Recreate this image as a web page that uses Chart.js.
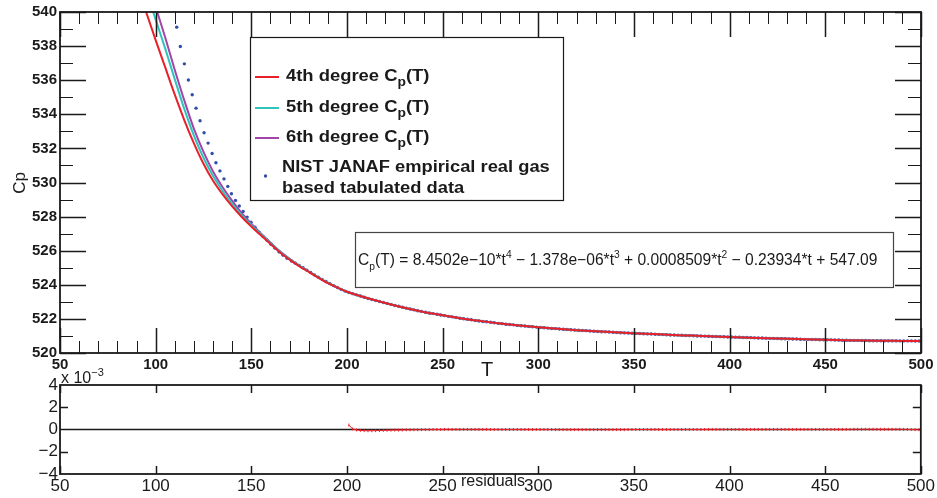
<!DOCTYPE html>
<html>
<head>
<meta charset="utf-8">
<script src="https://cdn.jsdelivr.net/npm/chart.js@4.4.1/dist/chart.umd.min.js"></script>
<style>
  html, body { margin: 0; padding: 0; background: #fff; }
  #wrap { position: relative; width: 937px; height: 498px; overflow: hidden; }
  #top { position: absolute; left: 0; top: 0; }
  #bot { position: absolute; left: 0; top: 360px; }
</style>
</head>
<body>
<div id="wrap">
  <canvas id="top" width="937" height="380"></canvas>
  <canvas id="bot" width="937" height="138"></canvas>
</div>
<script>
const fitT = [90, 95, 100, 105, 110, 115, 120, 125, 130, 135, 140, 145, 150, 155, 160, 165, 170, 175, 180, 185, 190, 195, 200,
  210, 220, 230, 240, 250, 260, 270, 280, 290, 300, 310, 320, 330, 340, 350, 360, 370, 380, 390, 400, 410, 420, 430, 440, 450, 460, 470, 480, 490, 500];
const fit4 = [541.7, 540.0, 538.35, 536.75, 535.15, 533.65, 532.3, 531.1, 530.1, 529.3, 528.6, 527.98, 527.42, 526.9, 526.4, 525.9, 525.48, 525.1, 524.76, 524.42, 524.1, 523.83, 523.59,
  523.24, 522.93, 522.65, 522.41, 522.21, 522.02, 521.87, 521.73, 521.61, 521.51, 521.42, 521.34, 521.27, 521.21, 521.16, 521.11, 521.06, 521.02, 520.98, 520.94, 520.90, 520.87, 520.83, 520.80, 520.78, 520.75, 520.73, 520.72, 520.71, 520.70];
const fit5 = [543.1, 541.3, 539.55, 537.85, 536.05, 534.3, 532.75, 531.45, 530.38, 529.5, 528.75, 528.08, 527.5, 526.96, 526.45, 525.94, 525.51, 525.12, 524.78, 524.43, 524.11, 523.84, 523.59,
  523.24, 522.93, 522.65, 522.41, 522.21, 522.02, 521.87, 521.73, 521.61, 521.51, 521.42, 521.34, 521.27, 521.21, 521.16, 521.11, 521.06, 521.02, 520.98, 520.94, 520.90, 520.87, 520.83, 520.80, 520.78, 520.75, 520.73, 520.72, 520.71, 520.70];
const fit6 = [543.8, 542.0, 540.3, 538.5, 536.6, 534.8, 533.15, 531.8, 530.65, 529.72, 528.92, 528.2, 527.58, 527.01, 526.48, 525.96, 525.52, 525.13, 524.78, 524.44, 524.12, 523.84, 523.59,
  523.24, 522.93, 522.65, 522.41, 522.21, 522.02, 521.87, 521.73, 521.61, 521.51, 521.42, 521.34, 521.27, 521.21, 521.16, 521.11, 521.06, 521.02, 520.98, 520.94, 520.90, 520.87, 520.83, 520.80, 520.78, 520.75, 520.73, 520.72, 520.71, 520.70];

// NIST JANAF tabulated points
const dataT = [111.0, 112.9, 115.0, 117.1, 119.1, 121.1, 123.2, 125.3, 127.4, 129.5, 131.5, 133.6, 135.7, 137.7, 139.6, 141.7, 143.7, 145.7, 147.8, 149.8,
  151.9, 154.0, 156.1, 158.2, 160.3, 162.4, 164.5, 166.6, 168.7,
  171, 173, 175, 177, 179, 181, 183, 185, 187, 189, 191, 193, 195, 197, 199,
  201, 203, 205, 207, 209, 211, 213, 215, 217, 219,
  221, 223, 225, 227, 229, 231, 233, 235, 237, 239,
  241, 243, 245, 247, 249, 251, 253, 255, 257, 259,
  261, 263, 265, 267, 269, 271, 273, 275, 277, 279,
  281, 283, 285, 287, 289, 291, 293, 295, 297, 299,
  301, 303, 305, 307, 309, 311, 313, 315, 317, 319,
  321, 323, 325, 327, 329, 331, 333, 335, 337, 339,
  341, 343, 345, 347, 349, 351, 353, 355, 357, 359,
  361, 363, 365, 367, 369, 371, 373, 375, 377, 379,
  381, 383, 385, 387, 389, 391, 393, 395, 397, 399,
  401, 403, 405, 407, 409, 411, 413, 415, 417, 419,
  421, 423, 425, 427, 429, 431, 433, 435, 437, 439,
  441, 443, 445, 447, 449, 451, 453, 455, 457, 459,
  461, 463, 465, 467, 469, 471, 473, 475, 477, 479,
  481, 483, 485, 487, 489, 491, 493, 495, 497, 499];
const dataCp = [539.11, 537.98, 536.96, 536.01, 535.15, 534.36, 533.62, 532.92, 532.31, 531.70, 531.16, 530.68, 530.21, 529.77, 529.34, 528.95, 528.62, 528.30, 527.97, 527.67,
  527.38, 527.09, 526.84, 526.61, 526.38, 526.15, 525.93, 525.74, 525.56,
  525.40, 525.27, 525.14, 525.00, 524.86, 524.72, 524.58, 524.45, 524.32, 524.19, 524.07, 523.95, 523.84, 523.73, 523.63,
  523.55, 523.48, 523.41, 523.34, 523.27, 523.20, 523.14, 523.08, 523.02, 522.96,
  522.90, 522.85, 522.79, 522.74, 522.68, 522.63, 522.58, 522.53, 522.48, 522.44,
  522.39, 522.35, 522.31, 522.27, 522.23, 522.19, 522.15, 522.12, 522.08, 522.04,
  522.01, 521.98, 521.95, 521.91, 521.88, 521.85, 521.83, 521.80, 521.77, 521.74,
  521.72, 521.69, 521.67, 521.65, 521.62, 521.60, 521.58, 521.56, 521.54, 521.52,
  521.50, 521.48, 521.46, 521.44, 521.43, 521.41, 521.39, 521.38, 521.36, 521.35,
  521.33, 521.32, 521.31, 521.29, 521.28, 521.26, 521.25, 521.24, 521.23, 521.22,
  521.20, 521.19, 521.18, 521.17, 521.16, 521.15, 521.14, 521.13, 521.12, 521.11,
  521.10, 521.09, 521.08, 521.07, 521.06, 521.06, 521.05, 521.04, 521.03, 521.02,
  521.01, 521.00, 521.00, 520.99, 520.98, 520.97, 520.97, 520.96, 520.95, 520.94,
  520.94, 520.93, 520.92, 520.91, 520.91, 520.90, 520.89, 520.88, 520.88, 520.87,
  520.86, 520.86, 520.85, 520.84, 520.84, 520.83, 520.82, 520.82, 520.81, 520.80,
  520.80, 520.79, 520.79, 520.78, 520.78, 520.77, 520.77, 520.76, 520.76, 520.75,
  520.75, 520.74, 520.74, 520.74, 520.73, 520.73, 520.72, 520.72, 520.72, 520.72,
  520.71, 520.71, 520.71, 520.71, 520.71, 520.71, 520.71, 520.71, 520.70, 520.70];

// residuals (x 10^-3) of the fit, at the tabulated points from 200 K on
const resV = [0.40, 0.05, -0.04, -0.08, -0.10, -0.11, -0.11, -0.10, -0.09, -0.08,
  -0.07, -0.06, -0.05, -0.05, -0.04, -0.03, -0.03, -0.02, -0.02, -0.01,
  -0.01, -0.01, 0, 0, 0, 0.01, 0.01, 0.01, 0.01, 0.01,
  0.01, 0.01, 0.01, 0.01, 0.01, 0.01, 0.01, 0, 0, 0,
  0, 0, 0, 0, 0, 0, 0, 0, 0, 0,
  0, 0, 0, 0, -0.01, -0.01, -0.01, -0.01, -0.01, -0.01,
  -0.01, -0.01, -0.01, -0.01, -0.01, -0.01, -0.01, -0.01, -0.01, -0.01,
  -0.01, -0.01, -0.01, 0, 0, 0, 0, 0, 0, 0,
  0, 0, 0, 0, 0, 0, 0, 0, 0, 0,
  0, 0, 0, 0, 0.01, 0.01, 0.01, 0.01, 0.01, 0.01,
  0.01, 0.01, 0.01, 0.01, 0.01, 0.01, 0.01, 0.01, 0.01, 0.01,
  0.01, 0.01, 0.01, 0.01, 0.01, 0.01, 0.01, 0.01, 0.01, 0.01,
  0.01, 0.01, 0.01, 0.01, 0.01, 0.01, 0.01, 0.01, 0.01, 0.01,
  0.01, 0.01, 0.02, 0.02, 0.02, 0.02, 0.02, 0.02, 0.02, 0.02,
  0.02, 0.02, 0.02, 0.02, 0.02, 0.01, 0.01, 0, -0.01, -0.02];
const zeroT = [50, 500];
const zeroV = [0, 0];

// axis ticks
const tTicks = [50, 100, 150, 200, 250, 300, 350, 400, 450, 500];
const cpTicks = [520, 522, 524, 526, 528, 530, 532, 534, 536, 538, 540];
const resTicks = [-4, -2, 0, 2, 4];

const FONT = "'Liberation Sans', Arial, sans-serif";
const INK = '#1a1a1a';
Chart.defaults.font.family = FONT;

const pts = (xs, ys) => xs.map((x, i) => ({ x: x, y: ys[i] }));
const resT = dataT.filter(t => t >= 200);

// draw text pieces one after another (for sub/superscripts), sx = horizontal stretch
function richText(ctx, x, y, parts, sx) {
    sx = sx || 1;
    ctx.save();
    ctx.translate(x, y);
    ctx.scale(sx, 1);
    let cx = 0;
    parts.forEach(p => {
        ctx.font = p.font;
        ctx.fillText(p.text, cx, p.dy || 0);
        cx += ctx.measureText(p.text).width;
    });
    ctx.restore();
}

// ROOT-like frame with ticks pointing inwards on all four sides
function drawFrame(chart, o) {
    const { ctx, chartArea: a, scales: { x, y } } = chart;
    ctx.save();
    ctx.strokeStyle = INK;
    const tick = (vals, len, width, horiz) => {
        ctx.lineWidth = width;
        ctx.beginPath();
        vals.forEach(v => {
            if (horiz) {
                const px = Math.round(x.getPixelForValue(v)) + 0.5;
                ctx.moveTo(px, a.bottom); ctx.lineTo(px, a.bottom - len);
                ctx.moveTo(px, a.top); ctx.lineTo(px, a.top + len);
            } else {
                const py = Math.round(y.getPixelForValue(v)) + 0.5;
                ctx.moveTo(a.left, py); ctx.lineTo(a.left + len, py);
                ctx.moveTo(a.right, py); ctx.lineTo(a.right - len, py);
            }
        });
        ctx.stroke();
    };
    if (o.xMinor) tick(o.xMinor, o.xMinorLen, 1, true);
    tick(o.xMajor, o.xMajorLen, 1.5, true);
    if (o.yMinor) tick(o.yMinor, o.yMinorLen, 1, false);
    tick(o.yMajor, o.yMajorLen, 1.5, false);
    ctx.lineWidth = 1.8;
    ctx.strokeRect(a.left, a.top, a.right - a.left, a.bottom - a.top);
    ctx.restore();
}

const xMinor = [];
for (let v = 60; v < 500; v += 10) if (v % 50 !== 0) xMinor.push(v);
const yMinor = [];
for (let v = 521; v < 540; v += 2) yMinor.push(v);

const mainDecor = {
    id: 'mainDecor',
    afterDraw(chart) {
        const ctx = chart.ctx;
        ctx.save();
        ctx.textBaseline = 'alphabetic';

        // legend box
        ctx.fillStyle = '#fff';
        ctx.fillRect(250, 37, 313, 163);
        ctx.strokeStyle = INK;
        ctx.lineWidth = 1.2;
        ctx.strokeRect(250.5, 37.5, 313, 163);
        const rows = [['#e8202a', '4th', 77], ['#2ec4bc', '5th', 108], ['#a145a8', '6th', 138]];
        rows.forEach(r => {
            ctx.strokeStyle = r[0];
            ctx.lineWidth = 2;
            ctx.beginPath(); ctx.moveTo(255, r[2]); ctx.lineTo(279, r[2]); ctx.stroke();
            ctx.fillStyle = INK;
            richText(ctx, 286, r[2] + 4, [
                { text: r[1] + ' degree C', font: 'bold 16px ' + FONT },
                { text: 'p', font: 'bold 12px ' + FONT, dy: 5 },
                { text: '(T)', font: 'bold 16px ' + FONT }
            ], 1.15);
        });
        ctx.fillStyle = '#3050a8';
        ctx.beginPath(); ctx.arc(265.5, 176, 1.7, 0, Math.PI * 2); ctx.fill();
        ctx.fillStyle = INK;
        richText(ctx, 282, 172, [{ text: 'NIST JANAF empirical real gas', font: 'bold 16px ' + FONT }], 1.145);
        richText(ctx, 282, 193, [{ text: 'based tabulated data', font: 'bold 16px ' + FONT }], 1.145);

        // fit formula box
        ctx.fillStyle = '#fff';
        ctx.fillRect(355, 232, 538, 55);
        ctx.strokeStyle = '#444';
        ctx.lineWidth = 1.2;
        ctx.strokeRect(355.5, 232.5, 538, 55);
        ctx.fillStyle = INK;
        const reg = '16px ' + FONT, sm = '10.5px ' + FONT;
        richText(ctx, 358, 265, [
            { text: 'C', font: reg }, { text: 'p', font: sm, dy: 5 },
            { text: '(T) = 8.4502e\u221210*t', font: reg }, { text: '4', font: sm, dy: -7 },
            { text: ' \u2212 1.378e\u221206*t', font: reg }, { text: '3', font: sm, dy: -7 },
            { text: ' + 0.0008509*t', font: reg }, { text: '2', font: sm, dy: -7 },
            { text: ' \u2212 0.23934*t + 547.09', font: reg }
        ], 0.975);

        // axis titles
        ctx.fillStyle = INK;
        ctx.font = '20px ' + FONT;
        ctx.textAlign = 'center';
        ctx.fillText('T', 487, 376);
        ctx.translate(25, 183);
        ctx.rotate(-Math.PI / 2);
        ctx.font = '17px ' + FONT;
        ctx.fillText('Cp', 0, 0);
        ctx.restore();

        drawFrame(chart, {
            xMinor: xMinor, xMinorLen: 12, xMajor: tTicks, xMajorLen: 25,
            yMinor: yMinor, yMinorLen: 13, yMajor: cpTicks, yMajorLen: 26
        });
    }
};

const resDecor = {
    id: 'resDecor',
    afterDraw(chart) {
        const ctx = chart.ctx;
        ctx.save();
        ctx.fillStyle = INK;
        richText(ctx, 61, 23, [
            { text: 'x 10', font: '16px ' + FONT },
            { text: '\u22123', font: '11px ' + FONT, dy: -7 }
        ]);
        ctx.font = '16px ' + FONT;
        ctx.textAlign = 'center';
        ctx.fillText('residuals', 493, 126);
        ctx.restore();
        drawFrame(chart, { xMajor: tTicks, xMajorLen: 8, yMajor: [-2, 2], yMajorLen: 8 });
    }
};

const setTicks = vals => scale => { scale.ticks = vals.map(v => ({ value: v })); };
const noGrid = { display: false, drawTicks: false };

const mainChart = new Chart(document.getElementById('top'), {
    type: 'scatter',
    data: {
        datasets: [
            { label: '4th degree', data: pts(fitT, fit4), showLine: true, borderColor: '#e8202a', borderWidth: 2,
              pointRadius: 0, cubicInterpolationMode: 'monotone', clip: 0 },
            { label: '5th degree', data: pts(fitT, fit5), showLine: true, borderColor: '#2ec4bc', borderWidth: 2,
              pointRadius: 0, cubicInterpolationMode: 'monotone', clip: 0 },
            { label: '6th degree', data: pts(fitT, fit6), showLine: true, borderColor: '#a145a8', borderWidth: 2,
              pointRadius: 0, cubicInterpolationMode: 'monotone', clip: 0 },
            { label: 'NIST JANAF', data: pts(dataT, dataCp), showLine: false, pointRadius: 1.7,
              pointBackgroundColor: '#3050a8', pointBorderWidth: 0, clip: 0 }
        ]
    },
    options: {
        responsive: false,
        animation: false,
        devicePixelRatio: 1,
        layout: { padding: { top: 9, right: 16, left: 0, bottom: 0 } },
        plugins: { legend: { display: false }, tooltip: { enabled: false } },
        scales: {
            x: {
                type: 'linear', min: 50, max: 500,
                afterBuildTicks: setTicks(tTicks),
                afterFit: s => { s.height = 27; },
                grid: noGrid, border: { display: false },
                ticks: { autoSkip: false, maxRotation: 0, padding: 3, color: INK,
                         font: { size: 15, weight: 'bold' } }
            },
            y: {
                type: 'linear', min: 520, max: 540,
                afterBuildTicks: setTicks(cpTicks),
                afterFit: s => { s.width = 60; },
                grid: noGrid, border: { display: false },
                ticks: { autoSkip: false, padding: 3, color: INK, font: { size: 15, weight: 'bold' } }
            }
        }
    },
    plugins: [mainDecor]
});

const resChart = new Chart(document.getElementById('bot'), {
    type: 'scatter',
    data: {
        datasets: [
            { label: 'residuals', data: pts(resT, resV), showLine: true, borderColor: '#e8202a', borderWidth: 1,
              pointStyle: 'line', rotation: 90, pointRadius: 1.5, pointBorderColor: '#e8202a', pointBorderWidth: 1, clip: 0 },
            { label: 'zero', data: pts(zeroT, zeroV), showLine: true, borderColor: INK, borderWidth: 1.5,
              pointRadius: 0, clip: 0 }
        ]
    },
    options: {
        responsive: false,
        animation: false,
        devicePixelRatio: 1,
        layout: { padding: { top: 25, right: 16, left: 0, bottom: 0 } },
        plugins: { legend: { display: false }, tooltip: { enabled: false } },
        scales: {
            x: {
                type: 'linear', min: 50, max: 500,
                afterBuildTicks: setTicks(tTicks),
                afterFit: s => { s.height = 24; },
                grid: noGrid, border: { display: false },
                ticks: { autoSkip: false, maxRotation: 0, padding: 2, color: INK, font: { size: 17 } }
            },
            y: {
                type: 'linear', min: -4, max: 4,
                afterBuildTicks: setTicks(resTicks),
                afterFit: s => { s.width = 60; },
                grid: noGrid, border: { display: false },
                ticks: { autoSkip: false, padding: 2, color: INK, font: { size: 17 },
                         callback: v => (v < 0 ? '\u2212' + Math.abs(v) : String(v)) }
            }
        }
    },
    plugins: [resDecor]
});
</script>
</body>
</html>
